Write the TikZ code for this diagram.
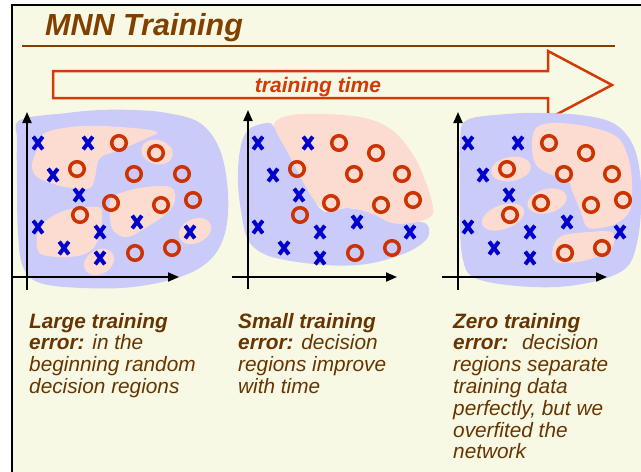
\documentclass[tikz,border=0pt]{standalone}
\usepackage{fontspec}
\setmainfont{Liberation Sans}
\usetikzlibrary{arrows.meta}

\definecolor{slidebg}{RGB}{248,249,228}
\definecolor{regblue}{RGB}{203,203,250}
\definecolor{regpink}{RGB}{252,220,208}
\definecolor{markblue}{RGB}{0,0,204}
\definecolor{markred}{RGB}{204,51,0}
\definecolor{arrowred}{RGB}{210,58,8}
\definecolor{titlebrown}{RGB}{128,64,0}
\definecolor{capbrown}{RGB}{104,52,0}

\tikzset{
  xmk/.style={markblue, line width=4pt},
  omk/.style={markred, line width=3.5pt},
  axisline/.style={black, line width=2pt, -{Triangle[length=11pt,width=9pt]}},
  bluereg/.style={fill=regblue},
  pinkreg/.style={fill=regpink},
  capline/.style={anchor=base west, inner sep=0pt, text=capbrown,
    font=\fontsize{20.8}{22}\selectfont\itshape},
}

% the same training set, drawn in every panel
\newcommand\drawtrainingset{%
  \foreach \a/\b in {38/143,88/143,53/175,79/195,38/227,100/232,64/248,100/258,137/222,190/232}
    \draw[xmk] (\a-4.8,\b-6.3) -- (\a+4.8,\b+6.3) (\a-4.8,\b+6.3) -- (\a+4.8,\b-6.3);
  \foreach \a/\b in {119/143,156/153,77/169,134/174,182/174,111/203,161/205,193/200,80/215,135/253,172/248}
    \draw[omk] (\a,\b) circle[radius=7.3];
}

\begin{document}
\begin{tikzpicture}[x=1pt,y=-1pt]
\useasboundingbox (0,0) rectangle (641,472);

% slide frame
\fill[white] (0,0) rectangle (641,472);
\fill[slidebg] (12,5) rectangle (641,472);
\draw[line width=2pt] (12,472) -- (12,5) -- (641,5);

% title
\node[anchor=base west, inner sep=0pt, text=titlebrown,
      font=\fontsize{30.5}{36}\selectfont\bfseries\itshape] (title) at (45,35) {MNN Training};
\coordinate (ruleL) at (22,46);
\coordinate (ruleR) at (615,46);
\draw[titlebrown, line width=2pt] (ruleL) -- (ruleR);

% training-time block arrow
\draw[arrowred, line width=2.5pt, line join=miter]
  (53,71) -- (548,71) -- (548,51) -- (612,85) -- (548,119) -- (548,98) -- (53,98) -- cycle;
\node[anchor=base, inner sep=0pt, text=arrowred,
      font=\fontsize{21}{25}\selectfont\bfseries\itshape] (ttime) at (318,92) {training time};

% ---- panel 1: random decision regions
\fill[bluereg] plot[smooth cycle, tension=0.6] coordinates {
  (20,120) (67,113) (100,110) (133,110) (167,113) (200,123) (220,150) (228,193)
  (225,233) (210,260) (180,277) (133,287) (83,288) (40,283) (23,267) (18,233)
  (17,183) (17,140)};
\fill[pinkreg] plot[smooth cycle, tension=0.6] coordinates {
  (32,165) (37,150) (45,133) (83,126) (133,128) (157,132) (147,138) (120,150)
  (100,158) (95,177) (90,188) (73,188) (57,185) (37,177)};
\fill[pinkreg, rotate around={-15:(157,152)}] (157,152) ellipse[x radius=16, y radius=12];
\fill[pinkreg] plot[smooth cycle, tension=0.6] coordinates {
  (113,197) (140,188) (170,187) (175,200) (167,213) (147,227) (127,237) (113,230) (110,213)};
\fill[pinkreg] plot[smooth cycle, tension=0.6] coordinates {
  (47,220) (67,210) (97,207) (102,215) (98,240) (87,253) (67,257) (43,255) (37,247) (38,233)};
\fill[pinkreg, rotate around={30:(99,262)}] (99,262) ellipse[x radius=16, y radius=12];
\fill[pinkreg, rotate around={25:(195,231)}] (195,231) ellipse[x radius=17, y radius=12];
\drawtrainingset
\coordinate (y1b) at (27,290); \coordinate (y1t) at (27,112);
\coordinate (x1l) at (12,277); \coordinate (x1r) at (179,277);
\draw[axisline] (y1b) -- (y1t);
\draw[axisline] (x1l) -- (x1r);

% ---- panel 2: regions improve
\fill[bluereg] plot[smooth cycle, tension=0.6] coordinates {
  (248,130) (267,123) (275,128) (290,153) (305,180) (313,198) (325,212) (345,208)
  (375,213) (398,222) (425,223) (428,237) (412,250) (385,260) (358,265) (325,265)
  (285,260) (262,253) (248,240) (242,217) (238,183) (240,150)};
\fill[pinkreg] plot[smooth cycle, tension=0.6] coordinates {
  (275,122) (292,115) (325,114) (365,118) (392,130) (412,153) (425,180) (433,207)
  (430,217) (412,223) (392,223) (375,215) (352,208) (335,210) (322,208) (312,197)
  (302,180) (288,153) (277,133)};
\begin{scope}[xshift=220pt]
  \drawtrainingset
\end{scope}
\coordinate (y2b) at (248,289); \coordinate (y2t) at (248,110);
\coordinate (x2l) at (232,277); \coordinate (x2r) at (397,277);
\draw[axisline] (y2b) -- (y2t);
\draw[axisline] (x2l) -- (x2r);

% ---- panel 3: zero training error, overfitted
\fill[bluereg] plot[smooth cycle, tension=0.6] coordinates {
  (467,120) (507,114) (540,113) (580,115) (613,123) (632,143) (640,173) (641,210)
  (637,243) (627,267) (600,280) (557,287) (507,285) (473,277) (463,260) (460,227)
  (460,183) (460,140)};
\fill[pinkreg] plot[smooth cycle, tension=0.6] coordinates {
  (537,127) (557,123) (590,127) (617,137) (628,157) (632,183) (630,210) (617,223)
  (600,228) (587,227) (580,210) (573,193) (567,180) (547,173) (535,163) (532,143)};
\fill[pinkreg, rotate around={10:(511,169)}] (511,169) ellipse[x radius=20, y radius=12];
\fill[pinkreg, rotate around={15:(547,201)}] (547,201) ellipse[x radius=20, y radius=12];
\fill[pinkreg, rotate around={20:(503,217)}] (503,217) ellipse[x radius=22, y radius=12];
\fill[pinkreg] plot[smooth cycle, tension=0.6] coordinates {
  (560,237) (590,232) (613,233) (610,250) (587,260) (560,263) (552,255)};
\begin{scope}[xshift=430pt]
  \drawtrainingset
\end{scope}
\coordinate (y3b) at (458,290); \coordinate (y3t) at (458,112);
\coordinate (x3l) at (442,277); \coordinate (x3r) at (607,277);
\draw[axisline] (y3b) -- (y3t);
\draw[axisline] (x3l) -- (x3r);

% ---- captions
\foreach \t [count=\i] in {{\bfseries Large training},{\bfseries error:} in the,
    beginning random,decision regions}
  \node[capline] (capA\i) at (29,{328+21.8*(\i-1)}) {\t};
\foreach \t [count=\i] in {{\bfseries Small training},{\bfseries error:} decision,
    regions improve,with time}
  \node[capline] (capB\i) at (238,{328+21.8*(\i-1)}) {\t};
\foreach \t [count=\i] in {{\bfseries Zero training},{{\bfseries error:}~ decision},
    regions separate,training data,{perfectly, but we},overfited the,network}
  \node[capline] (capC\i) at (453,{328+21.8*(\i-1)}) {\t};
\end{tikzpicture}
\end{document}
